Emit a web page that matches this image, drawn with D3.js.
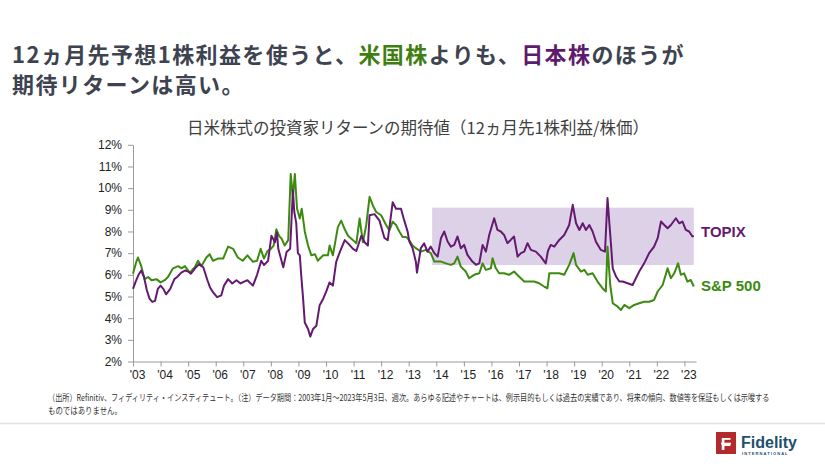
<!DOCTYPE html>
<html><head><meta charset="utf-8">
<script src="https://cdn.jsdelivr.net/npm/d3@7"></script>
<style>
html,body{margin:0;padding:0;background:#fff;}
svg{display:block;}
</style>
</head><body>
<div id="chart"></div>
<script>
// ---- data ----
const yearTicks = [2003,2004,2005,2006,2007,2008,2009,2010,2011,2012,2013,2014,2015,2016,2017,2018,2019,2020,2021,2022,2023];
const yTicks = [2,3,4,5,6,7,8,9,10,11,12];
const seriesNames = ["TOPIX","S&P 500"];
const bandRange = {start: 2013.85, end: 2023.34, low: 6.45, high: 9.1};

const topixYears = [2003.0,2003.1,2003.2,2003.3,2003.4,2003.5,2003.6,2003.7,2003.8,2003.9,2004.0,2004.1,2004.2,2004.35,2004.5,2004.6,2004.75,2004.9,2005.0,2005.1,2005.25,2005.4,2005.55,2005.7,2005.8,2005.9,2006.05,2006.2,2006.3,2006.45,2006.6,2006.75,2006.9,2007.05,2007.15,2007.35,2007.5,2007.65,2007.75,2007.9,2008.02,2008.15,2008.22,2008.27,2008.45,2008.57,2008.7,2008.8,2008.85,2008.92,2008.98,2009.05,2009.1,2009.17,2009.23,2009.35,2009.43,2009.53,2009.65,2009.77,2009.9,2010.0,2010.13,2010.25,2010.37,2010.5,2010.68,2010.8,2010.98,2011.1,2011.28,2011.4,2011.52,2011.58,2011.76,2011.94,2012.12,2012.24,2012.42,2012.54,2012.72,2012.84,2012.96,2013.02,2013.14,2013.26,2013.3,2013.44,2013.56,2013.68,2013.8,2013.93,2014.05,2014.17,2014.29,2014.41,2014.53,2014.65,2014.77,2014.89,2015.01,2015.13,2015.31,2015.44,2015.56,2015.68,2015.8,2015.92,2016.1,2016.22,2016.34,2016.46,2016.58,2016.7,2016.82,2016.95,2017.07,2017.19,2017.31,2017.43,2017.61,2017.79,2017.97,2018.05,2018.15,2018.28,2018.46,2018.64,2018.82,2018.95,2019.07,2019.19,2019.31,2019.43,2019.55,2019.67,2019.79,2019.97,2020.12,2020.21,2020.31,2020.4,2020.52,2020.64,2020.76,2020.94,2021.12,2021.24,2021.36,2021.54,2021.72,2021.9,2022.03,2022.15,2022.27,2022.39,2022.51,2022.69,2022.81,2022.93,2023.05,2023.17,2023.29,2023.34];
const topixValues = [5.35,5.7,6.0,6.2,5.9,5.3,4.9,4.75,4.8,5.35,5.5,5.35,5.1,5.35,5.8,5.9,6.1,6.2,6.15,6.05,6.3,6.5,6.35,5.75,5.4,5.2,4.97,5.05,5.5,5.8,5.6,5.75,5.6,5.7,5.75,5.5,6.0,6.65,6.45,6.65,7.8,7.5,7.95,7.2,6.35,7.05,7.2,9.9,8.9,8.4,7.0,6.9,6.0,4.9,3.8,3.5,3.15,3.5,3.65,4.6,4.9,5.2,5.65,5.5,6.6,7.05,7.6,7.45,7.2,7.1,7.8,7.5,7.35,8.75,8.8,8.5,7.7,7.6,9.35,9.05,9.05,8.5,8.0,7.55,7.23,6.6,6.1,7.23,7.45,7.07,7.3,7.0,6.84,7.69,8.0,7.54,7.3,7.38,7.77,7.23,7.38,6.92,6.61,6.46,6.53,7.38,7.07,7.84,8.61,8.07,8.0,7.84,7.46,7.61,7.77,6.84,7.0,7.07,7.46,7.15,7.07,6.84,6.53,7.1,7.38,7.3,7.61,7.84,8.3,9.23,8.38,8.07,8.38,8.07,8.3,8.0,7.53,7.15,7.07,9.54,7.84,6.3,5.92,5.69,5.69,5.61,5.53,5.84,6.15,6.53,7.0,7.3,7.69,8.46,8.3,8.15,8.3,8.61,8.38,8.46,8.07,8.0,7.77,7.8];

const spYears = [2003.0,2003.12,2003.18,2003.3,2003.42,2003.55,2003.67,2003.85,2004.0,2004.15,2004.27,2004.45,2004.64,2004.76,2004.88,2005.06,2005.24,2005.36,2005.48,2005.66,2005.78,2005.9,2006.08,2006.27,2006.45,2006.63,2006.8,2006.98,2007.15,2007.35,2007.5,2007.63,2007.75,2007.88,2008.0,2008.1,2008.2,2008.3,2008.4,2008.5,2008.63,2008.72,2008.8,2008.87,2008.95,2009.05,2009.12,2009.23,2009.35,2009.47,2009.6,2009.7,2009.9,2010.07,2010.13,2010.25,2010.43,2010.55,2010.68,2010.8,2010.98,2011.1,2011.22,2011.34,2011.46,2011.58,2011.7,2011.82,2012.0,2012.18,2012.3,2012.42,2012.54,2012.66,2012.78,2012.9,2013.02,2013.14,2013.26,2013.44,2013.62,2013.8,2013.93,2014.17,2014.35,2014.53,2014.65,2014.77,2014.89,2015.07,2015.19,2015.37,2015.56,2015.68,2015.8,2015.98,2016.04,2016.16,2016.28,2016.46,2016.64,2016.82,2017.0,2017.19,2017.37,2017.55,2017.73,2017.91,2018.03,2018.1,2018.28,2018.46,2018.64,2018.82,2018.98,2019.07,2019.25,2019.37,2019.49,2019.67,2019.85,2020.03,2020.15,2020.21,2020.31,2020.4,2020.58,2020.7,2020.82,2021.0,2021.18,2021.36,2021.54,2021.72,2021.9,2022.03,2022.21,2022.39,2022.51,2022.63,2022.77,2022.87,2022.99,2023.11,2023.23,2023.34];
const spValues = [6.05,6.6,6.8,6.4,5.8,5.9,5.75,5.8,5.65,5.75,5.9,6.3,6.4,6.3,6.4,6.1,6.35,6.65,6.4,6.8,6.95,6.65,6.75,6.75,7.3,7.2,6.8,6.65,6.9,6.6,6.65,7.2,6.75,7.1,7.2,7.35,8.1,7.8,7.65,7.35,7.6,10.65,9.6,10.65,9.05,8.6,9.05,8.0,7.35,6.9,6.95,6.65,6.9,6.9,7.35,6.9,8.2,8.5,8.1,7.8,7.6,7.45,8.6,7.5,8.3,9.6,9.2,8.9,8.75,8.3,8.05,8.45,8.3,8.0,7.75,7.75,7.6,7.35,7.23,7.07,7.15,7.0,6.61,6.61,6.53,6.46,6.53,6.84,6.38,6.15,5.84,6.0,6.07,6.53,6.23,6.3,6.76,6.3,6.07,6.07,6.0,6.15,5.92,5.69,5.69,5.69,5.61,5.46,5.38,6.07,6.07,6.07,6.0,6.46,7.0,6.46,6.15,6.23,6.0,6.07,5.69,5.38,5.23,7.3,5.53,4.69,4.53,4.38,4.61,4.46,4.61,4.69,4.76,4.76,4.84,5.23,5.53,6.3,5.84,6.07,6.53,6.0,6.07,5.69,5.76,5.46];

const W = 825, H = 464;
const colTopix = "#651a72", colSp = "#3c8a10", titleCol = "#3e4350";
const latin = "'Liberation Sans', Arial, sans-serif";
const cjk = "'Noto Sans CJK JP', 'Noto Sans', sans-serif";

const svg = d3.select("#chart").append("svg").attr("width", W).attr("height", H);

// Title
const t1 = svg.append("text").attr("x", 12).attr("y", 63).attr("letter-spacing", 1.4)
  .attr("font-family", cjk).attr("font-weight", "bold").attr("font-size", 22).attr("fill", titleCol);
t1.append("tspan").text("12ヵ月先予想1株利益を使うと、");
t1.append("tspan").attr("fill", "#3f7f12").text("米国株");
t1.append("tspan").text("よりも、");
t1.append("tspan").attr("fill", "#5e1a6c").text("日本株");
t1.append("tspan").text("のほうが");
svg.append("text").attr("x", 12).attr("y", 93).attr("letter-spacing", 1.4)
  .attr("font-family", cjk).attr("font-weight", "bold").attr("font-size", 22).attr("fill", titleCol)
  .text("期待リターンは高い。");

// Subtitle
svg.append("text").attr("x", 418).attr("y", 134).attr("text-anchor", "middle")
  .attr("font-family", cjk).attr("font-size", 16.5).attr("fill", "#404040")
  .text("日米株式の投資家リターンの期待値（12ヵ月先1株利益/株価）");

// Scales
const x = d3.scaleLinear().domain([2003, 2023.42]).range([133, 696]);
const y = d3.scaleLinear().domain([2, 12]).range([361.5, 144.8]);

// Shaded band
svg.append("rect")
  .attr("x", x(bandRange.start)).attr("y", y(bandRange.high))
  .attr("width", x(bandRange.end) - x(bandRange.start))
  .attr("height", y(bandRange.low) - y(bandRange.high))
  .attr("fill", "#ddd1e7");

// Axes
const yAxis = svg.append("g").attr("transform", "translate(133,0)")
  .call(d3.axisLeft(y).tickValues(yTicks).tickFormat(d => d + "%").tickSize(5).tickSizeOuter(0));
const xAxis = svg.append("g").attr("transform", `translate(0,${y(2)})`)
  .call(d3.axisBottom(x).tickValues(yearTicks).tickFormat(d => "'" + String(d).slice(2)).tickSize(5).tickSizeOuter(0));
[yAxis, xAxis].forEach(g => {
  g.select(".domain").attr("stroke", "#9a9a9a");
  g.selectAll(".tick line").attr("stroke", "#9a9a9a");
  g.selectAll("text").attr("font-family", latin).attr("font-size", 12).attr("fill", "#222");
});
yAxis.selectAll("text").attr("x", -11);
xAxis.selectAll("text").attr("dx", 4).attr("y", 9);

// Lines
const line = d3.line().x(d => x(d[0])).y(d => y(d[1]));
const topix = topixYears.map((yr, i) => [yr, topixValues[i]]);
const sp = spYears.map((yr, i) => [yr, spValues[i]]);
svg.append("path").datum(sp).attr("d", line).attr("fill", "none")
  .attr("stroke", colSp).attr("stroke-width", 2).attr("stroke-linejoin", "round");
svg.append("path").datum(topix).attr("d", line).attr("fill", "none")
  .attr("stroke", colTopix).attr("stroke-width", 2).attr("stroke-linejoin", "round");

// Series labels
svg.append("text").attr("x", 701).attr("y", 237).attr("font-family", latin).attr("font-weight", "bold")
  .attr("font-size", 15).attr("fill", colTopix).text(seriesNames[0]);
svg.append("text").attr("x", 701).attr("y", 291).attr("font-family", latin).attr("font-weight", "bold")
  .attr("font-size", 15).attr("fill", colSp).text(seriesNames[1]);

// Footnote (condensed horizontally via transform)
function footLine(txt, yb, targetW) {
  const g = svg.append("g");
  const t = g.append("text").attr("x", 0).attr("y", 0).attr("font-family", cjk)
    .attr("font-size", 9).attr("fill", "#333").text(txt);
  const w = t.node().getComputedTextLength();
  g.attr("transform", `translate(48,${yb}) scale(${targetW / w},1)`);
}
footLine("（出所）Refinitiv、フィディリティ・インスティテュート。（注）データ期間：2003年1月～2023年5月3日、週次。あらゆる記述やチャートは、例示目的もしくは過去の実績であり、将来の傾向、数値等を保証もしくは示唆する", 401, 723);
footLine("ものではありません。", 414, 74);

// Separator
svg.append("line").attr("x1", 0).attr("x2", W).attr("y1", 423.5).attr("y2", 423.5)
  .attr("stroke", "#e2e2e2").attr("stroke-width", 1.5);

// Logo
const logo = svg.append("g");
logo.append("rect").attr("x", 716).attr("y", 432).attr("width", 20).attr("height", 22).attr("fill", "#b22a2e");
logo.append("text").attr("x", 726).attr("y", 450).attr("text-anchor", "middle").attr("font-family", latin)
  .attr("font-weight", "bold").attr("font-size", 17).attr("fill", "#fff").text("F");
logo.append("line").attr("x1", 721).attr("x2", 731).attr("y1", 443.5).attr("y2", 443.5).attr("stroke", "#fff").attr("stroke-width", 1.6);
logo.append("text").attr("x", 741).attr("y", 448).attr("font-family", latin).attr("font-weight", "bold")
  .attr("font-size", 16).attr("fill", "#1d4f6e").text("Fidelity");
logo.append("text").attr("x", 742).attr("y", 455).attr("font-family", latin).attr("font-weight", "bold")
  .attr("font-size", 4).attr("letter-spacing", 1.1).attr("fill", "#1d4f6e").text("INTERNATIONAL");
</script>
</body></html>
